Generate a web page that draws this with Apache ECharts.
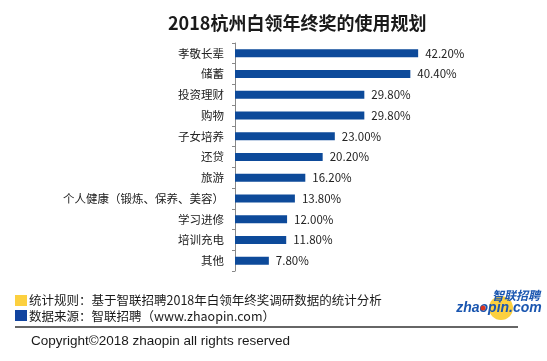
<!DOCTYPE html>
<html><head><meta charset="utf-8">
<script src="https://cdn.jsdelivr.net/npm/echarts@6/dist/echarts.min.js"></script>
<style>html,body{margin:0;padding:0;background:#fff}#c{width:547px;height:361px}</style>
</head><body><div id="c"></div>
<script>
var categories = ['孝敬长辈','储蓄','投资理财','购物','子女培养','还贷','旅游','个人健康（锻炼、保养、美容）','学习进修','培训充电','其他'];
var values = [42.2, 40.4, 29.8, 29.8, 23.0, 20.2, 16.2, 13.8, 12.0, 11.8, 7.8];
var titleText = '2018杭州白领年终奖的使用规划';
var note1 = '统计规则：基于智联招聘2018年白领年终奖调研数据的统计分析';
var note2 = '数据来源：智联招聘（www.zhaopin.com）';
var copyright = 'Copyright©2018 zhaopin all rights reserved';
var FONT = '"Noto Sans CJK SC", sans-serif';
var chart = echarts.init(document.getElementById('c'));
chart.setOption({
  animation: false,
  title: {text: titleText, left: 163, top: 9, textStyle: {fontFamily: FONT, fontSize: 18, fontWeight: 'bold', color: '#1a1a1a'}},
  grid: {left: 235, top: 43, height: 228, right: 95},
  xAxis: {type: 'value', min: 0, max: 50, show: false},
  yAxis: {type: 'category', data: categories, inverse: true,
    axisLine: {show: true, lineStyle: {color: '#888', width: 1}},
    axisTick: {show: true, length: 3, lineStyle: {color: '#888'}},
    axisLabel: {margin: 11, fontFamily: FONT, fontSize: 11.5, color: '#222'}},
  series: [{type: 'bar', data: values, barWidth: 8, itemStyle: {color: '#0d4a9a'},
    label: {show: true, position: 'right', distance: 7, fontFamily: FONT, fontSize: 11.5, color: '#222',
      formatter: function(p){ return p.value.toFixed(2) + '%'; }}}],
  graphic: [
    {type: 'rect', shape: {x: 15, y: 295, width: 12, height: 11}, style: {fill: '#fcd03f'}},
    {type: 'text', x: 29, y: 300.5, style: {text: note1, fontFamily: FONT, fontSize: 12.5, fill: '#1a1a1a', verticalAlign: 'middle'}},
    {type: 'rect', shape: {x: 15, y: 310, width: 12, height: 11}, style: {fill: '#1144a0'}},
    {type: 'text', x: 29, y: 316, style: {text: note2, fontFamily: FONT, fontSize: 12.5, fill: '#1a1a1a', verticalAlign: 'middle'}},
    {type: 'line', shape: {x1: 15, y1: 327, x2: 518, y2: 327}, style: {stroke: '#333', lineWidth: 1.5}},
    {type: 'text', x: 31, y: 341, style: {text: copyright, fontFamily: '"Liberation Sans", sans-serif', fontSize: 13.5, fill: '#1a1a1a', verticalAlign: 'middle'}},
    {type: 'circle', shape: {cx: 501, cy: 308, r: 12}, style: {fill: '#fcd03f'}},
    {type: 'text', x: 516, y: 295, style: {text: '智联招聘', fontFamily: FONT, fontSize: 12, fontWeight: 'bold', fontStyle: 'italic', fill: '#1a56b0', align: 'center', verticalAlign: 'middle'}},
    {type: 'text', x: 499, y: 308, style: {text: 'zhaopin.com', fontFamily: '"Liberation Sans", sans-serif', fontSize: 14, fontWeight: 'bold', fontStyle: 'italic', fill: '#1a56b0', align: 'center', verticalAlign: 'middle'}},
    {type: 'circle', shape: {cx: 483, cy: 308, r: 2.5}, style: {fill: '#d9331f'}}
  ]
});
</script></body></html>
